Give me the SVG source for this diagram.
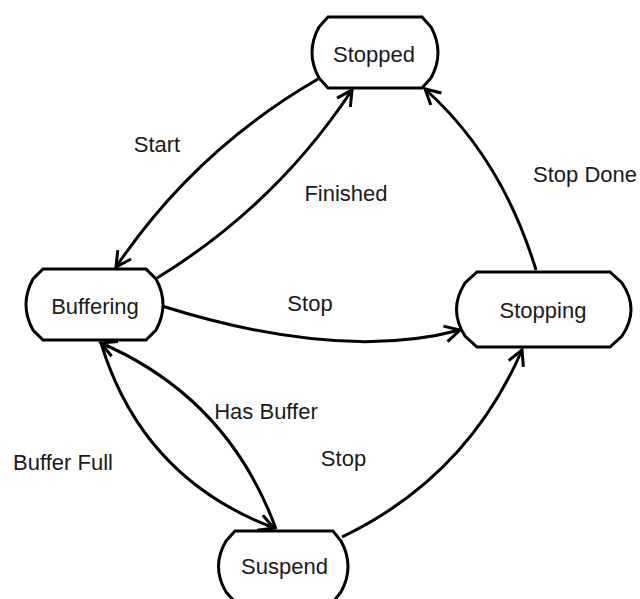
<svg xmlns="http://www.w3.org/2000/svg" width="640" height="599" viewBox="0 0 640 599">
<style>
.node{fill:#fff;stroke:#000;stroke-width:3;stroke-linejoin:miter}
.lbl{font-family:"Liberation Sans",Arial,sans-serif;font-size:22px;fill:#1a1a1a;text-anchor:middle}
.edge{fill:none;stroke:#000;stroke-width:3}
</style>
<defs>
<marker id="arr" markerUnits="userSpaceOnUse" markerWidth="24" markerHeight="24" viewBox="-20 -12 24 24" refX="0" refY="0" orient="auto">
<path d="M-15,-8 L0,0 L-15,8" fill="none" stroke="#000" stroke-width="3" stroke-linejoin="miter"/>
</marker>
</defs>
<rect width="640" height="599" fill="#fff"/>
<g id="connectors">
<path class="edge" d="M318,79 Q195,150 116,267" marker-end="url(#arr)"/>
<path class="edge" d="M157,278 Q275,206 352,90" marker-end="url(#arr)"/>
<path class="edge" d="M536,270 Q502,158 425,89" marker-end="url(#arr)"/>
<path class="edge" d="M162,306 Q340,362 460,330" marker-end="url(#arr)"/>
<path class="edge" d="M276,529 Q228,398 101,343" marker-end="url(#arr)"/>
<path class="edge" d="M101,343 Q142,478 274,528" marker-end="url(#arr)"/>
<path class="edge" d="M342,537 Q467,477 522,350" marker-end="url(#arr)"/>
</g>
<g id="node-stopped">
<path class="node" d="M328,17 H422 L431,27 Q445,52.5 431,78 L422,88 H328 L319,78 Q305,52.5 319,27 Z"/>
<text class="lbl" x="374" y="62">Stopped</text>
</g>
<g id="node-buffering">
<path class="node" d="M43,269 H146 L156,279 Q170,304.5 156,330 L146,340 H43 L33,330 Q19,304.5 33,279 Z"/>
<text class="lbl" x="95" y="314">Buffering</text>
</g>
<g id="node-stopping">
<path class="node" d="M477,272 H610 L622,283 Q640,309.5 622,336 L610,347 H477 L465,336 Q448,309.5 465,283 Z"/>
<text class="lbl" x="543" y="318">Stopping</text>
</g>
<g id="node-suspend">
<path class="node" d="M235,531 H333 L341,541 Q355,566.5 341,592 L333,602 H235 L226,592 Q211,566.5 226,541 Z"/>
<text class="lbl" x="284.5" y="574">Suspend</text>
</g>
<g id="labels">
<text class="lbl" x="157" y="152">Start</text>
<text class="lbl" x="346" y="201">Finished</text>
<text class="lbl" x="585" y="182">Stop Done</text>
<text class="lbl" x="310" y="311">Stop</text>
<text class="lbl" x="266" y="419">Has Buffer</text>
<text class="lbl" x="63" y="470">Buffer Full</text>
<text class="lbl" x="343.5" y="466">Stop</text>
</g>
</svg>
